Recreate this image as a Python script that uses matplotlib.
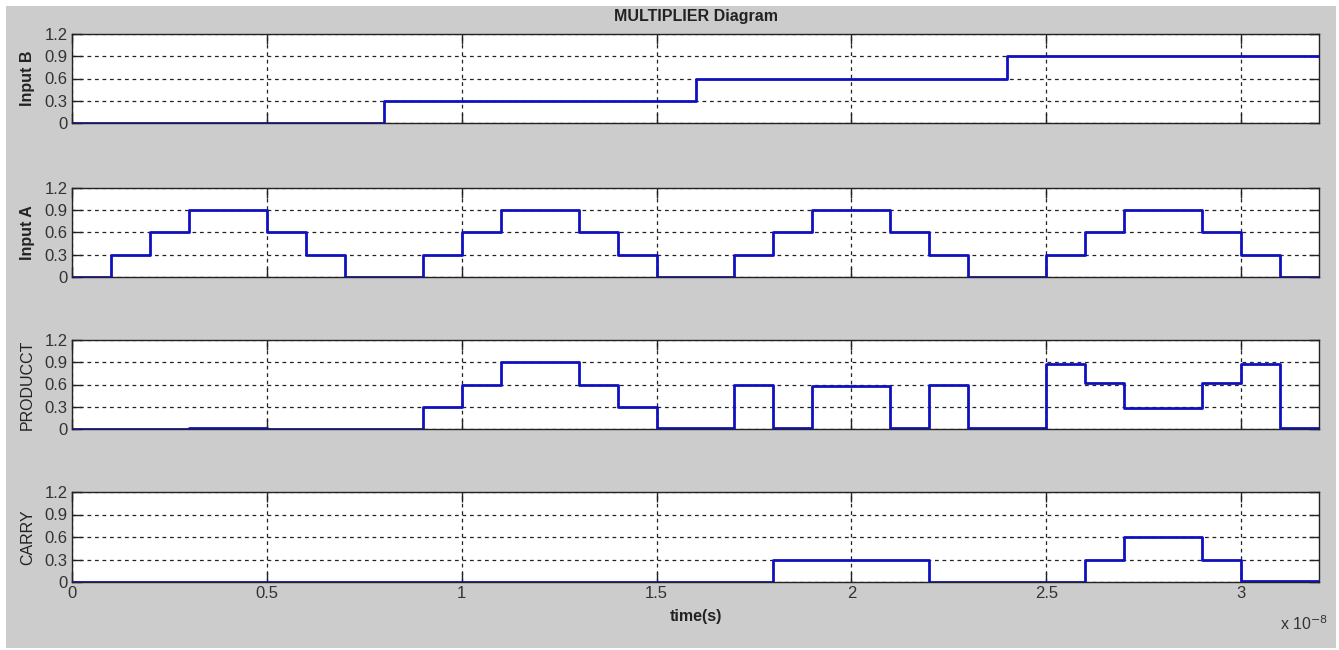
import matplotlib
matplotlib.use("Agg")
import matplotlib.pyplot as plt
from matplotlib.patches import Rectangle
import numpy as np

plt.rcParams['font.family'] = ['Liberation Sans', 'DejaVu Sans']

# step edges in units of 1e-8 s
input_b_t = [0.0, 0.8, 1.6, 2.4, 3.2]
input_b_v = [0.0, 0.3, 0.6, 0.9]

input_a_t = [0.0, 0.1, 0.2, 0.3, 0.5, 0.6, 0.7, 0.9, 1.0, 1.1, 1.3, 1.4, 1.5,
             1.7, 1.8, 1.9, 2.1, 2.2, 2.3, 2.5, 2.6, 2.7, 2.9, 3.0, 3.1, 3.2]
input_a_v = [0.0, 0.3, 0.6, 0.9, 0.6, 0.3, 0.0, 0.3, 0.6, 0.9, 0.6, 0.3, 0.0,
             0.3, 0.6, 0.9, 0.6, 0.3, 0.0, 0.3, 0.6, 0.9, 0.6, 0.3, 0.0]

product_t = [0.0, 0.3, 0.5, 0.9, 1.0, 1.1, 1.3, 1.4, 1.5, 1.7, 1.8, 1.9, 2.1,
             2.2, 2.3, 2.5, 2.6, 2.7, 2.9, 3.0, 3.1, 3.2]
product_v = [0.0, 0.02, 0.0, 0.3, 0.6, 0.9, 0.6, 0.3, 0.01, 0.6, 0.02, 0.58,
             0.02, 0.6, 0.01, 0.88, 0.62, 0.28, 0.62, 0.88, 0.01]

carry_t = [0.0, 1.8, 2.2, 2.6, 2.7, 2.9, 3.0, 3.2]
carry_v = [0.0, 0.3, 0.0, 0.3, 0.6, 0.3, 0.01]

signals = [
    ("Input B", input_b_t, input_b_v, 'bold'),
    ("Input A", input_a_t, input_a_v, 'bold'),
    ("PRODUCCT", product_t, product_v, 'normal'),
    ("CARRY", carry_t, carry_v, 'normal'),
]

y_ticks = [0, 0.3, 0.6, 0.9, 1.2]
y_tick_labels = ["0", "0.3", "0.6", "0.9", "1.2"]
x_ticks = [0, 0.5, 1, 1.5, 2, 2.5, 3]
x_tick_labels = ["0", "0.5", "1", "1.5", "2", "2.5", "3"]

W, H = 1339, 650
fig = plt.figure(figsize=(W / 100, H / 100), dpi=100, facecolor='white')
fig.patches.append(Rectangle((6 / W, 2 / H), (1336 - 6) / W, (644 - 2) / H,
                             transform=fig.transFigure, facecolor='#cccccc',
                             edgecolor='none', zorder=-10))

left = 72 / W
width = (1319 - 72) / W
tops = [34, 188, 340, 492]
bottoms = [123, 277, 429, 582]
line_color = '#1010c0'

axes = []
for i, (name, t, v, wt) in enumerate(signals):
    b = 1 - bottoms[i] / H
    h = (bottoms[i] - tops[i]) / H
    ax = fig.add_axes([left, b, width, h])
    ax.set_facecolor('white')
    tt = np.array(t)
    vv = np.array(list(v) + [v[-1]])
    ax.step(tt, vv, where='post', color=line_color, lw=2, zorder=3)
    ax.set_xlim(0, 3.2)
    ax.set_ylim(0, 1.2)
    ax.set_yticks(y_ticks)
    ax.set_yticklabels(y_tick_labels)
    ax.set_xticks(x_ticks)
    if i == 3:
        ax.set_xticklabels(x_tick_labels)
    else:
        ax.set_xticklabels([])
    ax.tick_params(direction='in', top=True, right=True, length=7, width=1,
                   labelsize=12, colors='#222222', pad=3)
    ax.tick_params(axis='y', labelcolor='#333333')
    ax.tick_params(axis='x', labelcolor='#333333')
    ax.grid(True, linestyle=(0, (3, 3)), color='#222222', lw=0.9)
    for s in ax.spines.values():
        s.set_linewidth(1)
        s.set_color('#222222')
    ax.set_ylabel(name, fontsize=11.5, fontweight=wt, color='#222222')
    ax.yaxis.set_label_coords(-0.0295, 0.5)
    axes.append(ax)

axes[0].set_title("MULTIPLIER Diagram", fontsize=11.5, fontweight='bold',
                  color='#222222', pad=9)
axes[3].set_xlabel("time(s)", fontsize=11.5, fontweight='bold', color='#222222',
                   labelpad=6)
fig.text(1280 / W, 1 - 624 / H, r"x 10$^{-8}$", fontsize=11.5, color='#333333',
         ha='left', va='center')

fig.savefig("out.png", dpi=100, facecolor=fig.get_facecolor())
